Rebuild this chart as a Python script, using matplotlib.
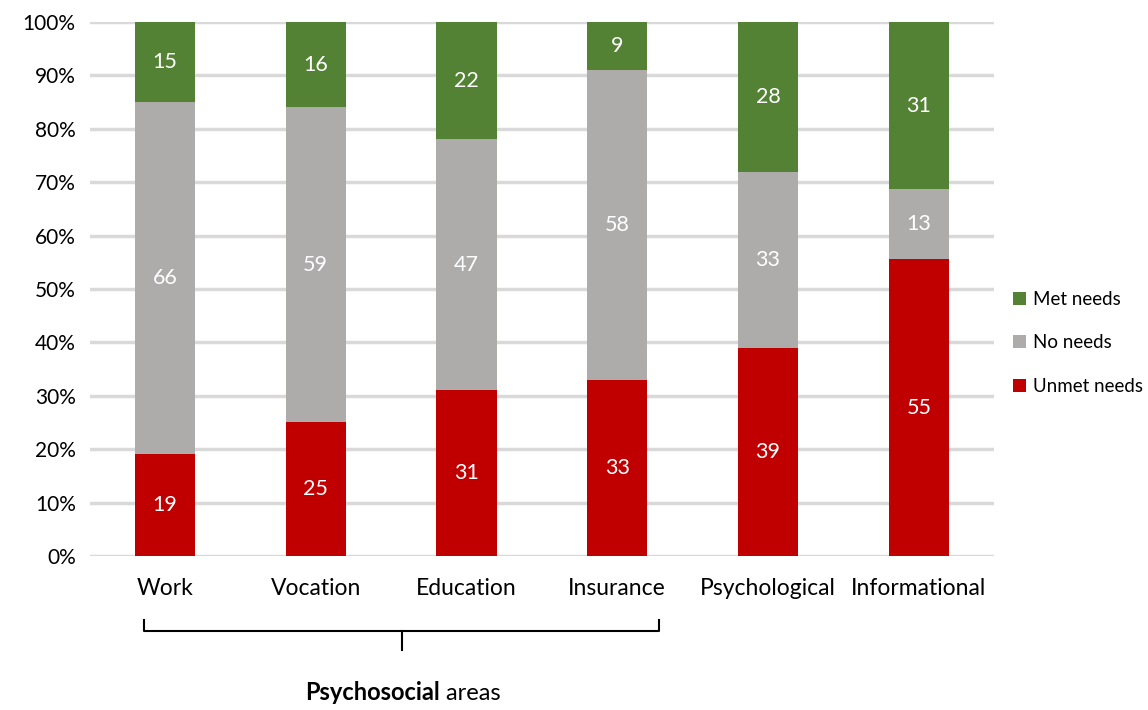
import matplotlib.pyplot as plt
import matplotlib.transforms as mtransforms
import numpy as np

plt.rcParams['font.family'] = ['Lato', 'DejaVu Sans']

areas = ['Work', 'Vocation', 'Education', 'Insurance', 'Psychological', 'Informational']
unmet = [19, 25, 31, 33, 39, 55]
no_needs = [66, 59, 47, 58, 33, 13]
met = [15, 16, 22, 9, 28, 31]

series = [('Unmet needs', unmet, '#C00000'),
          ('No needs', no_needs, '#AEABAB'),
          ('Met needs', met, '#548235')]

totals = np.array(unmet) + np.array(no_needs) + np.array(met)

fig = plt.figure(figsize=(11.48, 7.1), dpi=100)
ax = fig.add_axes([0.078, 0.217, 0.788, 0.752])

x = np.arange(len(areas))
bottom = np.zeros(len(areas))
handles = []
for name, vals, col in series:
    pct = np.array(vals) / totals * 100
    b = ax.bar(x, pct, 0.4, bottom=bottom, color=col, label=name, zorder=3)
    handles.append(b)
    for xi, p, v, bt in zip(x, pct, vals, bottom):
        ax.text(xi, bt + p / 2, str(v), ha='center', va='center', color='white', fontsize=15.5, zorder=4)
    bottom += pct

ax.set_xlim(-0.5, 5.5)
ax.set_ylim(0, 100)
ax.set_yticks(np.arange(0, 101, 10))
ax.set_yticklabels([f'{v}%' for v in range(0, 101, 10)], fontsize=15)
ax.set_xticks(x)
ax.set_xticklabels(areas, fontsize=16.5)
ax.tick_params(length=0)
ax.tick_params(axis='x', pad=16)
ax.tick_params(axis='y', pad=10)
ax.yaxis.grid(True, color='#D9D9D9', linewidth=2.5, zorder=0)
for s in ax.spines.values():
    s.set_visible(False)

# bracket under the psychosocial areas
trans = mtransforms.blended_transform_factory(ax.transData, ax.transAxes)
bx0, bx1, bmid = -0.14, 3.28, 1.57
ax.plot([bx0, bx0, bx1, bx1], [-0.12, -0.14, -0.14, -0.12], color='black', lw=1.5,
        transform=trans, clip_on=False)
ax.plot([bmid, bmid], [-0.14, -0.176], color='black', lw=1.5, transform=trans, clip_on=False)

fig.text(440 / 1148, 1 - 693 / 710, 'Psychosocial', fontsize=17, fontweight='bold', ha='right', va='center')
fig.text(440 / 1148, 1 - 693 / 710, ' areas', fontsize=17, ha='left', va='center')

leg = fig.legend(handles[::-1], [h.get_label() for h in handles[::-1]],
                 loc='center left', bbox_to_anchor=(0.882, 0.517), frameon=False,
                 fontsize=13.5, handlelength=0.7, handleheight=0.7, handletextpad=0.4,
                 labelspacing=1.4, borderpad=0, borderaxespad=0)

fig.savefig('out.png', dpi=100)
